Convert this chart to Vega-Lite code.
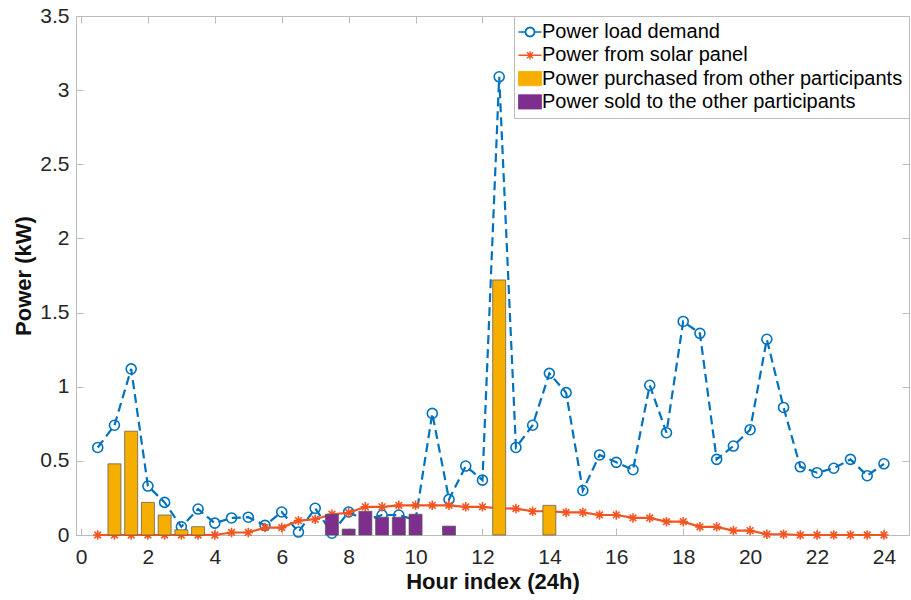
{
  "$schema": "https://vega.github.io/schema/vega-lite/v6.json",
  "width": 833,
  "height": 519,
  "autosize": {"type": "none"},
  "padding": {"left": 76, "top": 16, "right": 2, "bottom": 65},
  "background": "white",
  "config": {
    "font": "Liberation Sans",
    "view": {"stroke": "#bcbcbc", "strokeWidth": 1},
    "axis": {
      "grid": false,
      "domainColor": "#bcbcbc",
      "tickColor": "#bcbcbc",
      "tickSize": -7,
      "tickWidth": 1,
      "labelColor": "#262626",
      "labelFontSize": 21,
      "titleColor": "#111111",
      "titleFontSize": 22,
      "titleFontWeight": "bold"
    }
  },
  "datasets": {
    "load": [
      {"hour": 0.5, "kw": 0.59}, {"hour": 1.0, "kw": 0.74}, {"hour": 1.5, "kw": 1.12}, {"hour": 2.0, "kw": 0.33},
      {"hour": 2.5, "kw": 0.22}, {"hour": 3.0, "kw": 0.055}, {"hour": 3.5, "kw": 0.175}, {"hour": 4.0, "kw": 0.08},
      {"hour": 4.5, "kw": 0.115}, {"hour": 5.0, "kw": 0.12}, {"hour": 5.5, "kw": 0.065}, {"hour": 6.0, "kw": 0.155},
      {"hour": 6.5, "kw": 0.02}, {"hour": 7.0, "kw": 0.18}, {"hour": 7.5, "kw": 0.012}, {"hour": 8.0, "kw": 0.155},
      {"hour": 8.5, "kw": 0.1}, {"hour": 9.0, "kw": 0.135}, {"hour": 9.5, "kw": 0.135}, {"hour": 10.0, "kw": 0.1},
      {"hour": 10.5, "kw": 0.82}, {"hour": 11.0, "kw": 0.24}, {"hour": 11.5, "kw": 0.465}, {"hour": 12.0, "kw": 0.37},
      {"hour": 12.5, "kw": 3.09}, {"hour": 13.0, "kw": 0.59}, {"hour": 13.5, "kw": 0.74}, {"hour": 14.0, "kw": 1.09},
      {"hour": 14.5, "kw": 0.96}, {"hour": 15.0, "kw": 0.3}, {"hour": 15.5, "kw": 0.54}, {"hour": 16.0, "kw": 0.49},
      {"hour": 16.5, "kw": 0.44}, {"hour": 17.0, "kw": 1.01}, {"hour": 17.5, "kw": 0.69}, {"hour": 18.0, "kw": 1.44},
      {"hour": 18.5, "kw": 1.36}, {"hour": 19.0, "kw": 0.51}, {"hour": 19.5, "kw": 0.6}, {"hour": 20.0, "kw": 0.71},
      {"hour": 20.5, "kw": 1.32}, {"hour": 21.0, "kw": 0.86}, {"hour": 21.5, "kw": 0.46}, {"hour": 22.0, "kw": 0.42},
      {"hour": 22.5, "kw": 0.45}, {"hour": 23.0, "kw": 0.51}, {"hour": 23.5, "kw": 0.4}, {"hour": 24.0, "kw": 0.48}
    ],
    "solar": [
      {"hour": 0.5, "kw": 0}, {"hour": 1.0, "kw": 0}, {"hour": 1.5, "kw": 0}, {"hour": 2.0, "kw": 0},
      {"hour": 2.5, "kw": 0}, {"hour": 3.0, "kw": 0}, {"hour": 3.5, "kw": 0}, {"hour": 4.0, "kw": 0},
      {"hour": 4.5, "kw": 0.017}, {"hour": 5.0, "kw": 0.017}, {"hour": 5.5, "kw": 0.05}, {"hour": 6.0, "kw": 0.05},
      {"hour": 6.5, "kw": 0.097}, {"hour": 7.0, "kw": 0.106}, {"hour": 7.5, "kw": 0.14}, {"hour": 8.0, "kw": 0.15},
      {"hour": 8.5, "kw": 0.19}, {"hour": 9.0, "kw": 0.19}, {"hour": 9.5, "kw": 0.2}, {"hour": 10.0, "kw": 0.2},
      {"hour": 10.5, "kw": 0.2}, {"hour": 11.0, "kw": 0.2}, {"hour": 11.5, "kw": 0.19}, {"hour": 12.0, "kw": 0.19},
      {"hour": 12.5, "kw": 0.18}, {"hour": 13.0, "kw": 0.178}, {"hour": 13.5, "kw": 0.16}, {"hour": 14.0, "kw": 0.16},
      {"hour": 14.5, "kw": 0.152}, {"hour": 15.0, "kw": 0.152}, {"hour": 15.5, "kw": 0.135}, {"hour": 16.0, "kw": 0.135},
      {"hour": 16.5, "kw": 0.115}, {"hour": 17.0, "kw": 0.115}, {"hour": 17.5, "kw": 0.09}, {"hour": 18.0, "kw": 0.09},
      {"hour": 18.5, "kw": 0.055}, {"hour": 19.0, "kw": 0.055}, {"hour": 19.5, "kw": 0.03}, {"hour": 20.0, "kw": 0.03},
      {"hour": 20.5, "kw": 0.005}, {"hour": 21.0, "kw": 0.005}, {"hour": 21.5, "kw": 0}, {"hour": 22.0, "kw": 0},
      {"hour": 22.5, "kw": 0}, {"hour": 23.0, "kw": 0}, {"hour": 23.5, "kw": 0}, {"hour": 24.0, "kw": 0}
    ],
    "bought": [
      {"hour": 1.0, "kw": 0.48}, {"hour": 1.5, "kw": 0.7}, {"hour": 2.0, "kw": 0.22}, {"hour": 2.5, "kw": 0.135},
      {"hour": 3.0, "kw": 0.035}, {"hour": 3.5, "kw": 0.056}, {"hour": 12.5, "kw": 1.72}, {"hour": 14.0, "kw": 0.2}
    ],
    "sold": [
      {"hour": 7.5, "kw": 0.14}, {"hour": 8.0, "kw": 0.04}, {"hour": 8.5, "kw": 0.16}, {"hour": 9.0, "kw": 0.12},
      {"hour": 9.5, "kw": 0.12}, {"hour": 10.0, "kw": 0.14}, {"hour": 11.0, "kw": 0.06}
    ]
  },
  "resolve": {"axis": {"x": "independent", "y": "independent"}},
  "layer": [
    {
      "data": {"name": "load"},
      "mark": {"type": "line", "strokeDash": [9, 5], "strokeWidth": 2.2},
      "encoding": {
        "x": {"field": "hour", "type": "quantitative", "scale": {"domain": [0, 24.6], "nice": false, "zero": false},
          "axis": {"title": "Hour index (24h)", "values": [0, 2, 4, 6, 8, 10, 12, 14, 16, 18, 20, 22, 24], "format": "d", "labelPadding": 18, "titlePadding": 4}},
        "y": {"field": "kw", "type": "quantitative", "scale": {"domain": [0, 3.5], "nice": false},
          "axis": {"title": "Power (kW)", "values": [0, 0.5, 1, 1.5, 2, 2.5, 3, 3.5], "format": "~g", "labelPadding": 14, "titlePadding": 4}},
        "color": {
          "datum": "Power load demand",
          "type": "nominal",
          "scale": {
            "domain": ["Power load demand", "Power from solar panel", "Power purchased from other participants", "Power sold to the other participants"],
            "range": ["#0072BD", "#F25522", "#F6AE00", "#7E2F8E"]
          },
          "legend": {
            "title": null,
            "orient": "top-right",
            "offset": 0,
            "padding": 6,
            "rowPadding": 3.3,
            "symbolSize": 529,
            "labelFontSize": 20,
            "labelColor": "#000000",
            "labelOffset": 2,
            "labelLimit": 600,
            "strokeColor": "#bcbcbc",
            "fillColor": "white",
            "encode": {
              "symbols": {
                "update": {
                  "shape": {"signal": "datum.value === 'Power load demand' ? 'M-1,0H-0.42M0.42,0H1M0.42,0L0.364,0.21L0.21,0.364L0,0.42L-0.21,0.364L-0.364,0.21L-0.42,0L-0.364,-0.21L-0.21,-0.364L0,-0.42L0.21,-0.364L0.364,-0.21ZM0.38,0L0.329,-0.19L0.19,-0.329L0,-0.38L-0.19,-0.329L-0.329,-0.19L-0.38,0L-0.329,0.19L-0.19,0.329L0,0.38L0.19,0.329L0.329,0.19Z' : datum.value === 'Power from solar panel' ? 'M-1,0H1M0,-0.36V0.36M-0.26,-0.26L0.26,0.26M-0.26,0.26L0.26,-0.26' : 'M-1,-0.62H1V0.62H-1Z'"},
                  "fill": {"signal": "datum.value === 'Power purchased from other participants' ? '#F6AE00' : datum.value === 'Power sold to the other participants' ? '#7E2F8E' : '#ffffff'"},
                  "stroke": {"signal": "datum.value === 'Power load demand' ? '#0072BD' : datum.value === 'Power from solar panel' ? '#F25522' : '#555555'"},
                  "strokeWidth": {"signal": "datum.value === 'Power load demand' || datum.value === 'Power from solar panel' ? 1.4 : 0.8"},
                  "strokeDash": {"value": []},
                  "opacity": {"value": 1},
                  "fillOpacity": {"value": 1},
                  "strokeOpacity": {"value": 1}
                }
              }
            }
          }
        }
      }
    },
    {
      "data": {"name": "load"},
      "mark": {"type": "point", "shape": "circle", "filled": false, "size": 100, "strokeWidth": 1.6, "opacity": 1},
      "encoding": {
        "x": {"field": "hour", "type": "quantitative", "axis": null},
        "y": {"field": "kw", "type": "quantitative", "axis": null},
        "color": {"datum": "Power load demand", "type": "nominal"}
      }
    },
    {
      "data": {"name": "solar"},
      "mark": {"type": "line", "strokeWidth": 2.2},
      "encoding": {
        "x": {"field": "hour", "type": "quantitative", "axis": {"orient": "top", "title": null, "labels": false, "domain": false, "values": [0, 2, 4, 6, 8, 10, 12, 14, 16, 18, 20, 22, 24]}},
        "y": {"field": "kw", "type": "quantitative", "axis": {"orient": "right", "title": null, "labels": false, "domain": false, "values": [0, 0.5, 1, 1.5, 2, 2.5, 3, 3.5]}},
        "color": {"datum": "Power from solar panel", "type": "nominal"}
      }
    },
    {
      "data": {"name": "solar"},
      "mark": {"type": "point", "shape": "M-1,0H1M0,-1V1M-0.7,-0.7L0.7,0.7M-0.7,0.7L0.7,-0.7", "filled": false, "size": 90, "strokeWidth": 1.6, "opacity": 1},
      "encoding": {
        "x": {"field": "hour", "type": "quantitative", "axis": null},
        "y": {"field": "kw", "type": "quantitative", "axis": null},
        "color": {"datum": "Power from solar panel", "type": "nominal"}
      }
    },
    {
      "data": {"name": "bought"},
      "mark": {"type": "bar", "size": 13, "stroke": "#555555", "strokeWidth": 0.7},
      "encoding": {
        "x": {"field": "hour", "type": "quantitative", "axis": null},
        "y": {"field": "kw", "type": "quantitative", "axis": null},
        "color": {"datum": "Power purchased from other participants", "type": "nominal"}
      }
    },
    {
      "data": {"name": "sold"},
      "mark": {"type": "bar", "size": 13, "stroke": "#555555", "strokeWidth": 0.7},
      "encoding": {
        "x": {"field": "hour", "type": "quantitative", "axis": null},
        "y": {"field": "kw", "type": "quantitative", "axis": null},
        "color": {"datum": "Power sold to the other participants", "type": "nominal"}
      }
    }
  ]
}
